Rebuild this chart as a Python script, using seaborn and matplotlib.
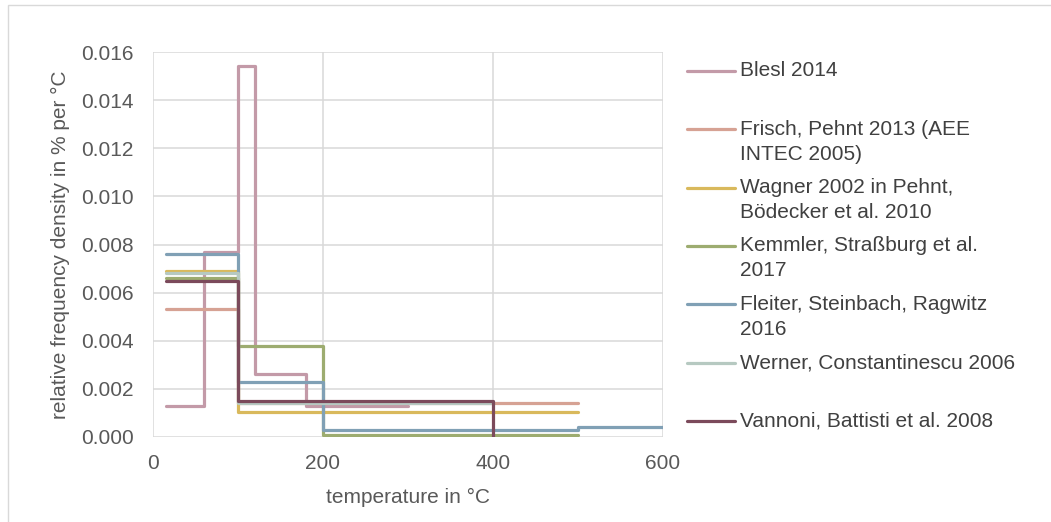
import pandas as pd
import matplotlib
matplotlib.use("Agg")
import matplotlib.pyplot as plt
from matplotlib.lines import Line2D
from matplotlib.patches import Rectangle
import seaborn as sns

# step points (steps-post): temperature in °C, density in % per °C
blesl_x = [15, 60, 100, 120, 180, 300]
blesl_y = [0.0013, 0.0077, 0.0154, 0.0026, 0.0013, 0.0013]
frisch_x = [15, 100, 500]
frisch_y = [0.0053, 0.0014, 0.0014]
wagner_x = [15, 100, 500]
wagner_y = [0.0069, 0.00105, 0.00105]
kemmler_x = [15, 100, 200, 500]
kemmler_y = [0.0066, 0.0038, 0.0001, 0.0001]
fleiter_x = [15, 100, 200, 500, 600]
fleiter_y = [0.0076, 0.0023, 0.0003, 0.0004, 0.0004]
werner_x = [15, 100, 400]
werner_y = [0.0068, 0.0014, 0.0014]
vannoni_x = [15, 100, 400, 400]
vannoni_y = [0.0065, 0.0015, 0.0015, 0.0]

labels = [
    "Blesl 2014",
    "Frisch, Pehnt 2013 (AEE\nINTEC 2005)",
    "Wagner 2002 in Pehnt,\nBödecker et al. 2010",
    "Kemmler, Straßburg et al.\n2017",
    "Fleiter, Steinbach, Ragwitz\n2016",
    "Werner, Constantinescu 2006",
    "Vannoni, Battisti et al. 2008",
]
colors = ["#c39aa8", "#d6a294", "#d9b95c", "#9dac70", "#80a0b5", "#b6c9c1", "#7b4a5b"]

series = [(blesl_x, blesl_y), (frisch_x, frisch_y), (wagner_x, wagner_y),
          (kemmler_x, kemmler_y), (fleiter_x, fleiter_y), (werner_x, werner_y),
          (vannoni_x, vannoni_y)]

rows = []
for lab, (xs, ys) in zip(labels, series):
    for x, y in zip(xs, ys):
        rows.append({"source": lab, "temperature": x, "density": y})
df = pd.DataFrame(rows)

sns.set_style("white")
plt.rcParams["font.family"] = ["Liberation Sans", "DejaVu Sans"]
FS = 15

fig = plt.figure(figsize=(10.51, 5.22), dpi=100)
ax = fig.add_axes([153 / 1051, 1 - 437 / 522, 510 / 1051, 385 / 522])

sns.lineplot(data=df, x="temperature", y="density", hue="source",
             palette=dict(zip(labels, colors)), hue_order=labels,
             estimator=None, sort=False, drawstyle="steps-post",
             linewidth=2.3, legend=False, ax=ax)

ax.set_xlim(0, 600)
ax.set_ylim(0, 0.016)
ax.set_xticks([0, 200, 400, 600])
ax.set_yticks([i * 0.002 for i in range(9)])
ax.set_yticklabels([f"{i * 0.002:.3f}" for i in range(9)])
ax.grid(True, color="#d9d9d9", linewidth=1.1)
ax.set_axisbelow(True)
for s in ax.spines.values():
    s.set_visible(False)
ax.tick_params(axis="y", length=0, labelsize=FS, colors="#595959", pad=14)
ax.tick_params(axis="x", length=0, labelsize=FS, colors="#595959", pad=12)
ax.set_xlabel("temperature in °C", fontsize=FS, color="#595959", labelpad=11)
ax.set_ylabel("relative frequency density in % per °C", fontsize=FS,
              color="#595959", labelpad=8)

# legend drawn like the spreadsheet one: handle aligned with the first text line
W, H = 1051, 522
for i, (lab, col) in enumerate(zip(labels, colors)):
    yc = 70.7 + 58.4 * i
    fig.add_artist(Line2D([687 / W, 735 / W], [1 - yc / H, 1 - yc / H],
                          color=col, linewidth=2.3, transform=fig.transFigure))
    fig.text(740 / W, 1 - (yc - 9.5) / H, lab, fontsize=FS, color="#404040",
             va="top", ha="left", linespacing=1.4)

# thin chart-area frame
fig.add_artist(Rectangle((8 / W, -0.05), 1.1, 1 - 5 / H + 0.05, fill=False,
                         edgecolor="#d9d9d9", linewidth=1, transform=fig.transFigure))

fig.savefig("out.png", dpi=100)
